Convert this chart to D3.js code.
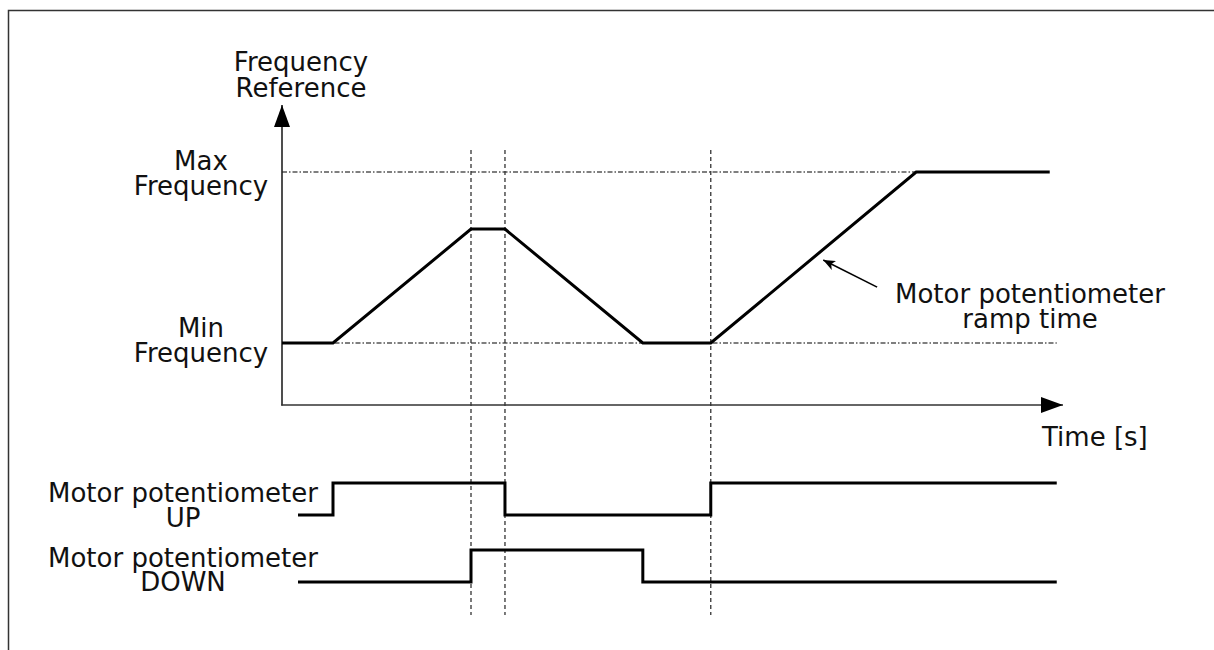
<!DOCTYPE html>
<html>
<head>
<meta charset="utf-8">
<script src="https://cdn.jsdelivr.net/npm/d3@7"></script>
<style>
  html, body { margin: 0; padding: 0; background: #fff; }
  svg { display: block; }
  text { font-family: "DejaVu Sans", Verdana, sans-serif; font-size: 26px; fill: #111; }
</style>
</head>
<body>
<svg id="chart" width="1214" height="650"></svg>
<script>
// ---- data (time in arbitrary units 0..100, frequency in % of max) ----
const freqTimes  = [0, 6.53, 24.2, 28.55, 46.2, 54.9, 81.2, 98.3];
const freqValues = [26.6, 26.6, 75.5, 75.5, 26.6, 26.6, 100, 100];
const minFrequency = 26.6;
const maxFrequency = 100;
const refLineEnds = [81.2, 99.2];        // where the Max / Min dash-dot guides stop
const markerTimes = [24.2, 28.55, 54.9];  // vertical dashed event markers
const signalNames = ["UP", "DOWN"];
const upTimes   = [2.05, 6.53, 28.55, 54.9, 99.2];
const upLevels  = [0, 1, 0, 1, 1];
const downTimes  = [2.05, 24.2, 46.2, 99.2];
const downLevels = [0, 1, 0, 0];
const axisLabelY = ["Frequency", "Reference"];
const axisLabelX = "Time [s]";
const maxLabel = ["Max", "Frequency"];
const minLabel = ["Min", "Frequency"];
const signalLabels = [["Motor potentiometer", "UP"], ["Motor potentiometer", "DOWN"]];
const annotationLabel = ["Motor potentiometer", "ramp time"];
const annotationTip = [69.3, 62.2];   // arrow tip (time, frequency)
const annotationTail = [76.2, 50.6];  // arrow tail (time, frequency)

// ---- scales ----
const x = d3.scaleLinear().domain([0, 100]).range([282, 1063]);
const y = d3.scaleLinear().domain([0, 100]).range([405, 172]);
const rows = d3.scaleBand().domain(signalNames).range([483, 617]).paddingInner(0);
const level = d3.scaleLinear().domain([0, 1]).range([32, 0]);

const svg = d3.select("#chart");

// border (open at right/bottom)
svg.append("path")
  .attr("d", "M8.5,650 L8.5,10.5 L1214,10.5")
  .attr("fill", "none").attr("stroke", "#333").attr("stroke-width", 1.5);

// markers
const defs = svg.append("defs");
defs.append("marker").attr("id", "bigArrow")
  .attr("viewBox", "0 0 22 16").attr("refX", 22).attr("refY", 8)
  .attr("markerWidth", 22).attr("markerHeight", 16).attr("markerUnits", "userSpaceOnUse")
  .attr("orient", "auto")
  .append("path").attr("d", "M0,0 L22,8 L0,16 Z").attr("fill", "#000");
defs.append("marker").attr("id", "smallArrow")
  .attr("viewBox", "0 0 12 10").attr("refX", 12).attr("refY", 5)
  .attr("markerWidth", 12).attr("markerHeight", 10).attr("markerUnits", "userSpaceOnUse")
  .attr("orient", "auto")
  .append("path").attr("d", "M0,0 L12,5 L0,10 L3,5 Z").attr("fill", "#000");

// dash-dot reference lines
[[maxFrequency, refLineEnds[0]], [minFrequency, refLineEnds[1]]].forEach(([v, tEnd]) => {
  svg.append("line")
    .attr("x1", x(0)).attr("x2", x(tEnd))
    .attr("y1", y(v)).attr("y2", y(v))
    .attr("stroke", "#555").attr("stroke-width", 1.4)
    .attr("stroke-dasharray", "5,2,1.5,2");
});

// vertical dashed markers
svg.selectAll("line.marker").data(markerTimes).enter().append("line")
  .attr("class", "marker")
  .attr("x1", d => x(d)).attr("x2", d => x(d))
  .attr("y1", 150).attr("y2", 615)
  .attr("stroke", "#333").attr("stroke-width", 1.3)
  .attr("stroke-dasharray", "4,3");

// axes
svg.append("line")
  .attr("x1", x(0)).attr("x2", x(0)).attr("y1", y(0) + 0.5).attr("y2", 105)
  .attr("stroke", "#222").attr("stroke-width", 1.6).attr("marker-end", "url(#bigArrow)");
svg.append("line")
  .attr("x1", x(0) - 0.8).attr("x2", x(100)).attr("y1", y(0)).attr("y2", y(0))
  .attr("stroke", "#333").attr("stroke-width", 1.6).attr("marker-end", "url(#bigArrow)");

// frequency reference curve
const freqData = freqTimes.map((t, i) => [t, freqValues[i]]);
svg.append("path").datum(freqData)
  .attr("d", d3.line().x(d => x(d[0])).y(d => y(d[1])))
  .attr("fill", "none").attr("stroke", "#000").attr("stroke-width", 3)
  .attr("stroke-linejoin", "miter");

// digital signals
const sigs = [
  { name: "UP", data: upTimes.map((t, i) => [t, upLevels[i]]) },
  { name: "DOWN", data: downTimes.map((t, i) => [t, downLevels[i]]) }
];
sigs.forEach(s => {
  svg.append("path").datum(s.data)
    .attr("d", d3.line().curve(d3.curveStepAfter)
      .x(d => x(d[0])).y(d => rows(s.name) + level(d[1])))
    .attr("fill", "none").attr("stroke", "#000").attr("stroke-width", 3);
});

// text helper
function multiline(lines, cx, baseline, anchor, lh) {
  const t = svg.append("text").attr("text-anchor", anchor || "middle");
  lines.forEach((l, i) => {
    t.append("tspan").attr("x", cx).attr("y", baseline + i * (lh || 25)).text(l);
  });
  return t;
}

multiline(axisLabelY, 301, 71, "middle", 26);
multiline(maxLabel, 201, 170, "middle", 25);
multiline(minLabel, 201, 337, "middle", 25);
multiline(signalLabels[0], 183, 502, "middle", 25);
multiline(signalLabels[1], 183, 567, "middle", 24);
multiline(annotationLabel, 1030, 303, "middle", 25);
svg.append("text").attr("x", 1042).attr("y", 446).text(axisLabelX);

// annotation arrow
svg.append("line")
  .attr("x1", x(annotationTail[0])).attr("y1", y(annotationTail[1]))
  .attr("x2", x(annotationTip[0])).attr("y2", y(annotationTip[1]))
  .attr("stroke", "#000").attr("stroke-width", 1.6).attr("marker-end", "url(#smallArrow)");
</script>
</body>
</html>
